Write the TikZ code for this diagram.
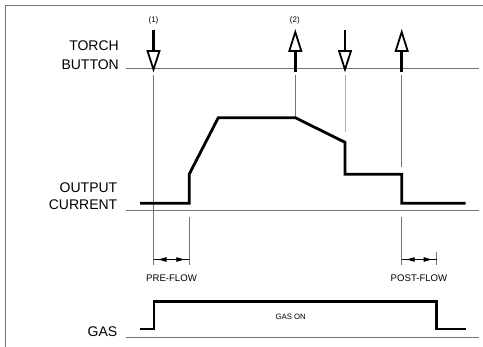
\documentclass[tikz,border=0pt]{standalone}
\usepackage{fontspec}
\setmainfont{Liberation Sans}
\usetikzlibrary{arrows.meta}
\tikzset{
  x=1pt, y=-1pt,
  thin line/.style={draw=black!55, line width=0.7pt},
  ext line/.style={draw=black!55, line width=0.6pt},
  wave/.style={draw=black, line width=2.8pt, line join=miter},
  shaft/.style={draw=black, line width=2.8pt},
  head/.style={draw=black, fill=white, line width=1.8pt, line join=miter},
  biglabel/.style={anchor=east, inner sep=0pt, font=\fontsize{14}{15}\selectfont},
  smalllabel/.style={inner sep=0pt, font=\fontsize{9.6}{11}\selectfont},
  tinylabel/.style={inner sep=0pt, font=\fontsize{8}{9}\selectfont},
  dimtip/.style={-{Triangle[length=8pt,width=4.5pt]}, shorten >=5pt, draw=black, line width=0.7pt}
}
\begin{document}
\begin{tikzpicture}
\useasboundingbox (0,0) rectangle (483,347);
% frame
\coordinate (fTL) at (5,5);
\coordinate (fBL) at (5,347);
\coordinate (fTR) at (483,5);
\draw[thin line] (fBL) -- (fTL) -- (fTR);

% labels
\node[biglabel] (torch) at (119,46) {TORCH};
\node[biglabel] (button) at (119,64.5) {BUTTON};
\node[biglabel] (output) at (117.5,188) {OUTPUT};
\node[biglabel] (current) at (117.5,204.5) {CURRENT};
\node[biglabel] (gas) at (117.5,332) {GAS};

% baselines
\coordinate (bt1) at (126,68.5); \coordinate (bt2) at (479,68.5);
\coordinate (bo1) at (126,210); \coordinate (bo2) at (479,210);
\coordinate (bg1) at (126,337); \coordinate (bg2) at (479,337);
\draw[thin line] (bt1) -- (bt2);
\draw[thin line] (bo1) -- (bo2);
\draw[thin line] (bg1) -- (bg2);

% torch button arrows
% down arrows
\foreach \n/\x in {a/153.5, c/345} {
  \coordinate (\n top) at (\x,30);
  \coordinate (\n base) at (\x,51.5);
  \draw[shaft] (\n top) -- (\n base);
  \draw[head] (\x-6,51) -- (\x+6,51) -- (\x,69.5) -- cycle;
}
% up arrows
\foreach \n/\x in {b/295.3, d/401.7} {
  \coordinate (\n bot) at (\x,72);
  \coordinate (\n base) at (\x,50.5);
  \draw[shaft] (\n bot) -- (\n base);
  \draw[head] (\x-6,51) -- (\x+6,51) -- (\x,32) -- cycle;
}
\node[tinylabel] (l1) at (153.5,20.5) {(1)};
\node[tinylabel] (l2) at (294.8,20.5) {(2)};

% vertical guide lines
\coordinate (g1a) at (153.5,75); \coordinate (g1b) at (153.5,265);
\coordinate (g2a) at (295.3,75); \coordinate (g2b) at (295.3,117);
\coordinate (g3a) at (345,75);   \coordinate (g3b) at (345,132);
\coordinate (g4a) at (401.7,75); \coordinate (g4b) at (401.7,167);
\draw[ext line] (g1a) -- (g1b);
\draw[ext line] (g2a) -- (g2b);
\draw[ext line, draw=black!30] (g3a) -- (g3b);
\draw[ext line] (g4a) -- (g4b);
\coordinate (p1a) at (189.3,217); \coordinate (p1b) at (189.3,265);
\coordinate (p2a) at (401.7,217); \coordinate (p2b) at (401.7,265);
\coordinate (p3a) at (436.7,252); \coordinate (p3b) at (436.7,265);
\draw[ext line] (p1a) -- (p1b);
\draw[ext line] (p2a) -- (p2b);
\draw[ext line] (p3a) -- (p3b);

% dimension lines
\coordinate (d1l) at (153.5,259.5); \coordinate (d1r) at (189.3,259.5);
\coordinate (d1m) at (171.4,259.5);
\draw[draw=black, line width=0.7pt] (d1l) -- (d1r);
\draw[dimtip] (d1m) -- (d1l);
\draw[dimtip] (d1m) -- (d1r);
\coordinate (d2l) at (401.7,259.5); \coordinate (d2r) at (436.7,259.5);
\coordinate (d2m) at (419.2,259.5);
\draw[draw=black, line width=0.7pt] (d2l) -- (d2r);
\draw[dimtip] (d2m) -- (d2l);
\draw[dimtip] (d2m) -- (d2r);
\node[smalllabel] (pre) at (171.5,278) {PRE-FLOW};
\node[smalllabel] (post) at (419,278) {POST-FLOW};

% output current waveform
\draw[wave] (140,203.3) -- (189.3,203.3) -- (189.3,174) -- (218.3,117.7)
  -- (295.3,117.7) -- (345,142.3) -- (345,174.3) -- (401.7,174.3)
  -- (401.7,203.3) -- (465.7,203.3);

% gas waveform
\draw[wave] (140,329) -- (154,329) -- (154,301.7) -- (436.7,301.7)
  -- (436.7,329) -- (465.7,329);
\node[inner sep=0pt, font=\fontsize{7.8}{9}\selectfont] (gason) at (290.7,317) {GAS ON};
\end{tikzpicture}
\end{document}
